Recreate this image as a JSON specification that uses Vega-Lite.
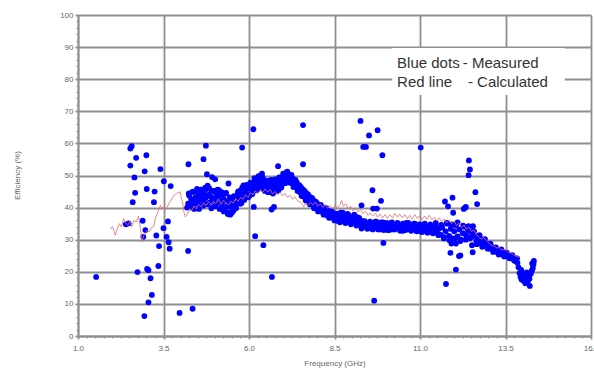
{
  "$schema": "https://vega.github.io/schema/vega-lite/v6.json",
  "width": 513,
  "height": 321,
  "autosize": {"type": "none"},
  "padding": {"left": 78, "top": 15, "right": 3, "bottom": 32},
  "background": "white",
  "config": {"view": {"stroke": null}, "font": "Liberation Sans"},
  "datasets": {
    "meas": [
      {"f":1.53,"e":18.4},{"f":2.40,"e":34.8},{"f":2.48,"e":35.1},{"f":2.53,"e":58.4},{"f":2.57,"e":59.1},{"f":2.70,"e":55.5},{"f":3.00,"e":56.3},{"f":2.53,"e":53.1},{"f":2.95,"e":51.3},{"f":3.41,"e":52.0},{"f":4.23,"e":53.5},{"f":2.65,"e":49.4},{"f":3.51,"e":48.2},{"f":3.71,"e":46.7},{"f":3.01,"e":45.8},{"f":3.24,"e":45.0},{"f":2.67,"e":44.6},{"f":2.60,"e":41.7},{"f":3.22,"e":41.7},{"f":2.89,"e":35.9},{"f":3.63,"e":35.7},{"f":2.97,"e":33.0},{"f":3.50,"e":33.6},{"f":3.29,"e":31.3},{"f":2.91,"e":30.9},{"f":3.59,"e":30.9},{"f":3.65,"e":29.2},{"f":3.37,"e":28.0},{"f":3.68,"e":27.2},{"f":4.22,"e":26.5},{"f":3.35,"e":21.8},{"f":2.74,"e":19.9},{"f":3.02,"e":20.9},{"f":3.06,"e":20.5},{"f":3.12,"e":18.0},{"f":3.16,"e":12.8},{"f":3.06,"e":10.5},{"f":2.94,"e":6.2},{"f":3.97,"e":7.2},{"f":4.35,"e":8.5},{"f":4.19,"e":40.0},{"f":4.74,"e":59.3},{"f":5.80,"e":58.7},{"f":6.13,"e":64.4},{"f":4.67,"e":55.1},{"f":6.85,"e":52.9},{"f":4.77,"e":50.4},{"f":4.92,"e":49.5},{"f":5.01,"e":48.8},{"f":5.40,"e":47.5},{"f":5.84,"e":46.9},{"f":6.38,"e":50.6},{"f":6.14,"e":40.2},{"f":6.66,"e":39.4},{"f":6.73,"e":40.2},{"f":6.18,"e":31.1},{"f":6.42,"e":28.3},{"f":6.67,"e":18.4},{"f":7.58,"e":65.7},{"f":9.26,"e":67.0},{"f":9.51,"e":62.5},{"f":9.76,"e":64.1},{"f":9.34,"e":58.9},{"f":9.42,"e":58.9},{"f":9.90,"e":56.3},{"f":7.58,"e":53.5},{"f":9.61,"e":45.4},{"f":9.86,"e":42.1},{"f":9.29,"e":33.5},{"f":9.93,"e":29.0},{"f":9.66,"e":11.0},{"f":11.02,"e":58.7},{"f":12.43,"e":54.7},{"f":12.46,"e":51.9},{"f":12.42,"e":50.1},{"f":12.62,"e":44.8},{"f":12.67,"e":41.1},{"f":11.95,"e":43.1},{"f":11.73,"e":41.9},{"f":11.82,"e":40.4},{"f":12.34,"e":40.2},{"f":12.28,"e":39.6},{"f":11.97,"e":38.4},{"f":11.89,"e":25.9},{"f":12.14,"e":24.9},{"f":12.18,"e":25.1},{"f":12.05,"e":20.7},{"f":11.76,"e":16.2},{"f":12.52,"e":28.3},{"f":12.54,"e":26.1},{"f":11.92,"e":28.8},{"f":12.05,"e":28.8},{"f":12.32,"e":40.0},{"f":9.63,"e":39.7},{"f":9.74,"e":39.7},{"f":9.29,"e":40.7},
      {"f":4.22,"e":41.2},{"f":4.25,"e":43.8},{"f":4.28,"e":40.5},{"f":4.31,"e":42.6},{"f":4.34,"e":44.8},{"f":4.37,"e":41.8},{"f":4.40,"e":39.6},{"f":4.43,"e":43.2},{"f":4.46,"e":45.0},{"f":4.49,"e":42.0},{"f":4.52,"e":44.2},{"f":4.55,"e":40.8},{"f":4.58,"e":43.4},{"f":4.61,"e":45.6},{"f":4.64,"e":42.4},{"f":4.67,"e":44.4},{"f":4.70,"e":41.2},{"f":4.73,"e":43.0},{"f":4.76,"e":45.8},{"f":4.79,"e":46.8},{"f":4.82,"e":44.0},{"f":4.85,"e":41.6},{"f":4.88,"e":43.4},{"f":4.91,"e":45.2},{"f":4.94,"e":42.2},{"f":4.97,"e":40.4},{"f":5.00,"e":43.0},{"f":5.03,"e":44.6},{"f":5.06,"e":41.4},{"f":5.09,"e":43.6},{"f":5.12,"e":45.4},{"f":5.15,"e":42.0},{"f":5.18,"e":44.2},{"f":5.21,"e":41.0},{"f":5.24,"e":43.0},{"f":5.27,"e":39.6},{"f":5.30,"e":42.2},{"f":5.33,"e":44.6},{"f":5.36,"e":40.4},{"f":5.39,"e":38.6},{"f":5.42,"e":41.6},{"f":5.45,"e":37.8},{"f":5.48,"e":40.2},{"f":5.51,"e":42.8},{"f":5.54,"e":39.0},{"f":5.57,"e":41.4},{"f":5.60,"e":43.4},{"f":5.63,"e":41.2},{"f":5.66,"e":44.0},{"f":5.69,"e":42.2},{"f":5.72,"e":45.2},{"f":5.75,"e":43.0},{"f":5.78,"e":41.4},{"f":5.81,"e":44.2},{"f":5.84,"e":46.0},{"f":5.87,"e":43.2},{"f":5.90,"e":45.4},{"f":5.93,"e":47.0},{"f":5.96,"e":44.2},{"f":5.99,"e":46.2},{"f":6.02,"e":43.8},{"f":6.05,"e":45.8},{"f":6.08,"e":47.8},{"f":6.11,"e":45.0},{"f":6.14,"e":47.0},{"f":6.17,"e":48.6},{"f":6.20,"e":45.8},{"f":6.23,"e":47.6},{"f":6.26,"e":49.2},{"f":6.29,"e":46.4},{"f":6.32,"e":48.2},{"f":6.35,"e":50.0},{"f":6.38,"e":47.2},{"f":6.41,"e":48.8},{"f":6.44,"e":46.0},{"f":6.47,"e":47.6},{"f":6.50,"e":45.4},{"f":6.53,"e":47.2},{"f":6.56,"e":44.8},{"f":6.59,"e":46.6},{"f":6.62,"e":48.2},{"f":6.65,"e":45.6},{"f":6.68,"e":47.4},{"f":6.71,"e":45.0},{"f":6.74,"e":46.8},{"f":6.77,"e":48.4},{"f":6.80,"e":46.0},{"f":6.83,"e":47.8},{"f":6.86,"e":45.4},{"f":6.89,"e":47.2},{"f":6.92,"e":48.8},{"f":6.95,"e":46.6},{"f":6.98,"e":48.4},{"f":7.01,"e":50.2},{"f":7.04,"e":48.0},{"f":7.07,"e":49.6},{"f":7.10,"e":51.0},{"f":7.13,"e":48.8},{"f":7.16,"e":50.4},{"f":7.19,"e":48.2},{"f":7.22,"e":49.6},{"f":7.25,"e":47.6},{"f":7.28,"e":49.0},{"f":7.31,"e":47.0},{"f":7.34,"e":48.4},{"f":7.37,"e":46.4},{"f":7.40,"e":47.8},{"f":7.43,"e":45.6},{"f":7.46,"e":47.0},{"f":7.49,"e":44.8},{"f":7.52,"e":46.4},{"f":7.55,"e":44.2},{"f":7.58,"e":45.6},{"f":7.61,"e":43.4},{"f":7.64,"e":45.0},{"f":7.67,"e":42.8},{"f":7.70,"e":44.2},{"f":7.73,"e":42.2},{"f":7.76,"e":43.6},{"f":7.79,"e":41.6},{"f":7.82,"e":43.0},{"f":7.85,"e":41.0},{"f":7.88,"e":42.4},{"f":7.91,"e":40.4},{"f":7.94,"e":41.8},{"f":7.97,"e":39.8},{"f":8.00,"e":41.2},{"f":8.04,"e":39.4},{"f":8.08,"e":40.6},{"f":8.12,"e":38.8},{"f":8.16,"e":40.0},{"f":8.20,"e":38.2},{"f":8.24,"e":39.6},{"f":8.28,"e":37.6},{"f":8.32,"e":39.0},{"f":8.36,"e":37.2},{"f":8.40,"e":38.6},{"f":8.44,"e":36.8},{"f":8.48,"e":38.2},{"f":8.52,"e":36.2},{"f":8.56,"e":37.4},{"f":8.60,"e":35.8},{"f":8.64,"e":37.0},{"f":8.68,"e":38.4},{"f":8.72,"e":36.2},{"f":8.76,"e":37.6},{"f":8.80,"e":35.6},{"f":8.84,"e":36.8},{"f":8.88,"e":38.0},{"f":8.92,"e":36.0},{"f":8.96,"e":37.2},{"f":9.00,"e":35.4},{"f":9.04,"e":36.6},{"f":9.08,"e":37.8},{"f":9.12,"e":35.8},{"f":9.16,"e":37.0},{"f":9.20,"e":35.0},{"f":9.24,"e":36.2},{"f":9.28,"e":34.6},{"f":9.32,"e":35.8},{"f":9.36,"e":34.2},{"f":9.40,"e":35.4},{"f":9.44,"e":33.8},{"f":9.48,"e":35.0},{"f":9.52,"e":33.6},{"f":9.56,"e":34.8},{"f":9.60,"e":33.4},{"f":9.64,"e":35.2},{"f":9.68,"e":34.0},{"f":9.72,"e":35.6},{"f":9.76,"e":33.6},{"f":9.80,"e":34.8},{"f":9.84,"e":33.2},{"f":9.88,"e":34.6},{"f":9.92,"e":35.4},{"f":9.96,"e":33.4},{"f":10.00,"e":34.6},{"f":10.05,"e":33.0},{"f":10.10,"e":34.4},{"f":10.15,"e":35.2},{"f":10.20,"e":33.2},{"f":10.25,"e":34.6},{"f":10.30,"e":33.6},{"f":10.35,"e":35.0},{"f":10.40,"e":33.4},{"f":10.45,"e":34.4},{"f":10.50,"e":32.8},{"f":10.55,"e":34.2},{"f":10.60,"e":35.2},{"f":10.65,"e":33.4},{"f":10.70,"e":34.6},{"f":10.75,"e":33.0},{"f":10.80,"e":34.2},{"f":10.85,"e":35.0},{"f":10.90,"e":33.2},{"f":10.95,"e":34.4},{"f":11.00,"e":32.6},{"f":11.05,"e":33.8},{"f":11.10,"e":34.8},{"f":11.15,"e":32.8},{"f":11.20,"e":34.0},{"f":11.25,"e":33.0},{"f":11.30,"e":34.4},{"f":11.35,"e":32.4},{"f":11.40,"e":33.6},{"f":11.45,"e":34.6},{"f":11.50,"e":32.2},{"f":11.55,"e":33.4},{"f":11.60,"e":31.6},{"f":11.65,"e":33.8},{"f":11.70,"e":30.8},{"f":11.75,"e":32.6},{"f":11.80,"e":35.0},{"f":11.85,"e":31.2},{"f":11.90,"e":33.4},{"f":11.95,"e":30.4},{"f":12.00,"e":32.6},{"f":12.05,"e":34.4},{"f":12.10,"e":31.0},{"f":12.15,"e":33.2},{"f":12.20,"e":30.0},{"f":12.25,"e":32.0},{"f":12.30,"e":34.0},{"f":12.35,"e":31.4},{"f":12.40,"e":33.0},{"f":12.45,"e":30.4},{"f":12.50,"e":32.4},{"f":12.55,"e":34.2},{"f":12.60,"e":31.2},{"f":12.65,"e":29.6},{"f":12.70,"e":31.0},{"f":12.75,"e":29.0},{"f":12.80,"e":30.2},{"f":12.85,"e":28.2},{"f":12.90,"e":29.4},{"f":12.95,"e":27.8},{"f":13.00,"e":28.6},{"f":13.05,"e":27.2},{"f":13.10,"e":27.8},{"f":13.15,"e":26.6},{"f":13.20,"e":27.2},{"f":13.25,"e":26.2},{"f":13.30,"e":26.8},{"f":13.35,"e":25.6},{"f":13.40,"e":26.2},{"f":13.45,"e":25.2},{"f":13.50,"e":25.8},{"f":13.55,"e":24.8},{"f":13.60,"e":25.2},{"f":13.65,"e":24.2},{"f":13.70,"e":24.8},{"f":13.75,"e":23.6},{"f":13.80,"e":24.2},{"f":13.85,"e":22.8},{"f":13.88,"e":21.4},{"f":13.91,"e":19.6},{"f":13.94,"e":18.4},{"f":13.97,"e":17.6},{"f":14.00,"e":18.8},{"f":14.03,"e":17.2},{"f":14.06,"e":19.4},{"f":14.09,"e":18.0},{"f":14.12,"e":19.8},{"f":14.15,"e":17.0},{"f":14.18,"e":18.6},{"f":14.21,"e":15.6},{"f":14.24,"e":19.4},{"f":14.27,"e":20.4},{"f":14.30,"e":21.2},{"f":14.32,"e":22.4},{"f":14.33,"e":23.4},
      {"f":4.24,"e":44.4},{"f":4.30,"e":40.0},{"f":4.36,"e":45.0},{"f":4.42,"e":41.2},{"f":4.48,"e":45.8},{"f":4.54,"e":39.6},{"f":4.60,"e":45.6},{"f":4.66,"e":40.6},{"f":4.72,"e":46.2},{"f":4.78,"e":41.0},{"f":4.84,"e":46.0},{"f":4.90,"e":39.8},{"f":4.96,"e":45.2},{"f":5.02,"e":40.4},{"f":5.08,"e":45.6},{"f":5.14,"e":39.6},{"f":5.20,"e":44.8},{"f":5.26,"e":38.8},{"f":5.32,"e":44.4},{"f":5.38,"e":38.0},{"f":5.44,"e":43.2},{"f":5.50,"e":38.4},{"f":5.56,"e":43.6},{"f":5.62,"e":39.8},{"f":5.68,"e":45.0},{"f":5.74,"e":41.2},{"f":5.80,"e":46.2},{"f":5.86,"e":42.4},{"f":5.92,"e":47.0},{"f":5.98,"e":43.2},{"f":6.04,"e":47.8},{"f":6.10,"e":44.2},{"f":6.16,"e":49.2},{"f":6.22,"e":45.4},{"f":6.28,"e":49.8},{"f":6.34,"e":46.0},{"f":6.40,"e":49.4},{"f":6.46,"e":45.2},{"f":6.52,"e":48.4},{"f":6.58,"e":44.8},{"f":6.64,"e":48.6},{"f":6.70,"e":44.4},{"f":6.76,"e":48.8},{"f":6.82,"e":45.2},{"f":6.88,"e":49.4},{"f":6.94,"e":46.2},{"f":7.00,"e":50.6},{"f":7.06,"e":47.6},{"f":7.12,"e":51.2},{"f":7.18,"e":47.8},{"f":7.24,"e":50.2},{"f":7.30,"e":46.4},{"f":7.36,"e":48.6},{"f":7.42,"e":45.2},{"f":7.48,"e":46.8},{"f":7.54,"e":43.6},{"f":7.60,"e":45.4},{"f":7.66,"e":42.2},{"f":7.72,"e":44.2},{"f":7.78,"e":41.0},{"f":7.84,"e":43.0},{"f":7.90,"e":39.8},{"f":7.96,"e":41.8},{"f":8.02,"e":38.8},{"f":8.10,"e":40.8},{"f":8.18,"e":37.8},{"f":8.26,"e":39.8},{"f":8.34,"e":36.8},{"f":8.42,"e":38.8},{"f":8.50,"e":36.0},{"f":8.58,"e":38.0},{"f":8.66,"e":35.4},{"f":8.74,"e":38.4},{"f":8.82,"e":35.2},{"f":8.90,"e":37.8},{"f":8.98,"e":34.8},{"f":9.06,"e":37.4},{"f":9.14,"e":34.4},{"f":9.22,"e":36.8},{"f":9.30,"e":34.0},{"f":9.38,"e":35.8},{"f":9.46,"e":33.4},{"f":9.54,"e":35.6},{"f":9.62,"e":33.2},{"f":9.70,"e":35.6},{"f":9.78,"e":33.2},{"f":9.86,"e":35.4},{"f":9.94,"e":33.0},{"f":10.02,"e":35.2},{"f":10.10,"e":33.0},{"f":10.18,"e":35.4},{"f":10.26,"e":33.2},{"f":10.34,"e":35.2},{"f":10.42,"e":32.8},{"f":10.50,"e":35.0},{"f":10.58,"e":33.0},{"f":10.66,"e":35.2},{"f":10.74,"e":32.8},{"f":10.82,"e":35.0},{"f":10.90,"e":32.6},{"f":10.98,"e":34.8},{"f":11.06,"e":32.4},{"f":11.14,"e":35.0},{"f":11.22,"e":32.2},{"f":11.30,"e":34.8},{"f":11.38,"e":32.0},{"f":11.46,"e":35.2},{"f":11.54,"e":31.4},{"f":11.62,"e":34.6},{"f":11.70,"e":30.4},{"f":11.78,"e":35.2},{"f":11.86,"e":29.8},{"f":11.94,"e":34.8},{"f":12.02,"e":30.4},{"f":12.10,"e":35.4},{"f":12.18,"e":29.6},{"f":12.26,"e":34.4},{"f":12.34,"e":30.0},{"f":12.42,"e":34.2},{"f":12.50,"e":30.8},{"f":12.58,"e":32.6},{"f":12.66,"e":28.6},{"f":12.74,"e":31.4},{"f":12.82,"e":27.8},{"f":12.90,"e":30.2},{"f":12.98,"e":27.2},{"f":13.06,"e":28.8},{"f":13.14,"e":26.2},{"f":13.22,"e":27.6},{"f":13.30,"e":25.4},{"f":13.38,"e":27.0},{"f":13.46,"e":24.8},{"f":13.54,"e":26.0},{"f":13.62,"e":24.2},{"f":13.70,"e":25.2},{"f":13.78,"e":23.4},{"f":13.84,"e":24.2},{"f":13.96,"e":20.6},{"f":14.08,"e":16.4},{"f":14.20,"e":17.8},{"f":14.28,"e":22.6}
    ],
    "calc": [
      {"f":1.94,"e":33.5},{"f":2.01,"e":34.0},{"f":2.06,"e":32.5},{"f":2.09,"e":31.4},{"f":2.15,"e":33.5},{"f":2.21,"e":35.0},{"f":2.27,"e":34.0},{"f":2.33,"e":36.6},{"f":2.40,"e":35.2},{"f":2.46,"e":34.5},{"f":2.52,"e":35.8},{"f":2.57,"e":34.0},{"f":2.63,"e":36.0},{"f":2.71,"e":35.5},{"f":2.77,"e":37.3},{"f":2.82,"e":34.0},{"f":2.87,"e":29.3},{"f":2.93,"e":31.5},{"f":2.98,"e":32.2},{"f":3.02,"e":33.0},{"f":3.09,"e":32.5},{"f":3.15,"e":33.8},{"f":3.21,"e":34.0},{"f":3.26,"e":36.5},{"f":3.33,"e":38.5},{"f":3.41,"e":40.7},{"f":3.46,"e":39.5},{"f":3.50,"e":40.2},{"f":3.55,"e":39.2},{"f":3.62,"e":40.5},{"f":3.69,"e":41.8},{"f":3.76,"e":43.0},{"f":3.82,"e":43.9},{"f":3.90,"e":44.5},{"f":3.98,"e":44.9},{"f":4.05,"e":42.0},{"f":4.10,"e":38.5},{"f":4.14,"e":37.1},{"f":4.20,"e":38.0},{"f":4.26,"e":39.6},{"f":4.33,"e":39.2},{"f":4.39,"e":40.5},{"f":4.46,"e":39.6},{"f":4.53,"e":41.0},{"f":4.61,"e":40.2},{"f":4.68,"e":41.5},{"f":4.74,"e":40.6},{"f":4.82,"e":41.8},{"f":4.90,"e":40.8},{"f":4.96,"e":42.0},{"f":5.03,"e":41.2},{"f":5.11,"e":42.5},{"f":5.18,"e":41.0},{"f":5.25,"e":42.2},{"f":5.32,"e":41.6},{"f":5.40,"e":40.8},{"f":5.47,"e":42.0},{"f":5.54,"e":41.4},{"f":5.61,"e":42.8},{"f":5.68,"e":42.0},{"f":5.76,"e":43.2},{"f":5.83,"e":42.6},{"f":5.90,"e":44.0},{"f":5.97,"e":43.2},{"f":6.05,"e":44.6},{"f":6.12,"e":44.0},{"f":6.18,"e":45.2},{"f":6.26,"e":44.4},{"f":6.34,"e":45.6},{"f":6.40,"e":44.6},{"f":6.47,"e":45.8},{"f":6.55,"e":44.8},{"f":6.62,"e":45.6},{"f":6.69,"e":44.2},{"f":6.76,"e":45.0},{"f":6.84,"e":44.0},{"f":6.91,"e":44.8},{"f":6.98,"e":43.6},{"f":7.05,"e":44.4},{"f":7.12,"e":43.2},{"f":7.20,"e":43.8},{"f":7.27,"e":42.6},{"f":7.34,"e":43.4},{"f":7.41,"e":42.2},{"f":7.49,"e":41.8},{"f":7.56,"e":41.0},{"f":7.60,"e":40.2},{"f":7.66,"e":41.2},{"f":7.72,"e":40.6},{"f":7.80,"e":41.6},{"f":7.87,"e":40.8},{"f":7.94,"e":41.8},{"f":8.01,"e":40.4},{"f":8.08,"e":41.2},{"f":8.16,"e":40.0},{"f":8.23,"e":41.0},{"f":8.30,"e":39.8},{"f":8.37,"e":40.6},{"f":8.45,"e":39.6},{"f":8.52,"e":40.8},{"f":8.58,"e":39.8},{"f":8.66,"e":41.0},{"f":8.71,"e":42.2},{"f":8.76,"e":40.4},{"f":8.83,"e":41.2},{"f":8.90,"e":39.6},{"f":8.97,"e":40.4},{"f":9.04,"e":39.0},{"f":9.12,"e":39.8},{"f":9.19,"e":38.6},{"f":9.26,"e":39.4},{"f":9.33,"e":38.2},{"f":9.41,"e":38.8},{"f":9.48,"e":37.6},{"f":9.54,"e":38.4},{"f":9.62,"e":37.4},{"f":9.70,"e":38.2},{"f":9.76,"e":37.0},{"f":9.83,"e":38.0},{"f":9.91,"e":36.8},{"f":9.98,"e":37.8},{"f":10.05,"e":36.6},{"f":10.12,"e":37.8},{"f":10.20,"e":36.8},{"f":10.27,"e":38.2},{"f":10.34,"e":37.0},{"f":10.41,"e":38.0},{"f":10.48,"e":36.8},{"f":10.56,"e":37.8},{"f":10.63,"e":36.6},{"f":10.70,"e":37.6},{"f":10.77,"e":36.4},{"f":10.85,"e":37.8},{"f":10.92,"e":36.6},{"f":10.98,"e":37.4},{"f":11.06,"e":36.2},{"f":11.14,"e":37.4},{"f":11.20,"e":36.4},{"f":11.27,"e":37.6},{"f":11.35,"e":36.2},{"f":11.42,"e":37.0},{"f":11.49,"e":35.8},{"f":11.56,"e":36.8},{"f":11.64,"e":35.6},{"f":11.71,"e":36.4},{"f":11.78,"e":35.2},{"f":11.85,"e":36.2},{"f":11.92,"e":35.0},{"f":12.00,"e":35.8},{"f":12.07,"e":34.4},{"f":12.14,"e":35.2},{"f":12.21,"e":33.8},{"f":12.29,"e":34.6},{"f":12.36,"e":33.2},{"f":12.42,"e":34.0},{"f":12.50,"e":32.6},{"f":12.58,"e":33.0},{"f":12.64,"e":31.6},{"f":12.71,"e":31.0},{"f":12.79,"e":30.2},{"f":12.86,"e":30.6},{"f":12.94,"e":29.9},{"f":13.03,"e":28.8},{"f":13.10,"e":28.2},{"f":13.17,"e":28.0},{"f":13.25,"e":27.4},{"f":13.32,"e":27.6},{"f":13.38,"e":26.8},{"f":13.46,"e":27.0},{"f":13.53,"e":26.7},{"f":13.60,"e":26.0},{"f":13.67,"e":25.8},{"f":13.75,"e":25.2},{"f":13.82,"e":24.8},{"f":13.92,"e":24.5}
    ],
    "notes": [
      {"f":10.33,"e":84.9,"t":"Blue dots"},
      {"f":12.25,"e":84.9,"t":"- Measured"},
      {"f":10.33,"e":79.0,"t":"Red line"},
      {"f":12.40,"e":79.0,"t":"- Calculated"}
    ],
    "box": [{"f":10.19,"f2":15.23,"e":75.1,"e2":89.7}]
  },
  "resolve": {"axis": {"x": "independent", "y": "independent"}},
  "layer": [
    {
      "data": {"name": "box"},
      "mark": {"type": "rect", "fill": "white"},
      "encoding": {
        "x": {"field": "f", "type": "quantitative", "scale": {"domain": [1, 16], "nice": false, "zero": false},
          "axis": {"orient": "bottom", "values": [1, 3.5, 6, 8.5, 11, 13.5, 16], "format": ".1f", "grid": true,
            "gridColor": "#8f8f8f", "gridWidth": 1.8, "domainColor": "#8f8f8f", "domainWidth": 1.8,
            "tickColor": "#8f8f8f", "tickWidth": 1.8, "tickSize": 3, "labelFontSize": 8, "labelColor": "#666666",
            "labelPadding": 5, "labelFlush": false, "labelOverlap": false,
            "title": "Frequency (GHz)", "titleFontSize": 8, "titleFontWeight": "normal", "titleColor": "#666666",
            "titleY": 27, "titleBaseline": "middle"}},
        "x2": {"field": "f2"},
        "y": {"field": "e", "type": "quantitative", "scale": {"domain": [0, 100], "nice": false},
          "axis": {"orient": "left", "values": [0, 10, 20, 30, 40, 50, 60, 70, 80, 90, 100], "grid": true,
            "gridColor": "#8f8f8f", "gridWidth": 1.8, "domainColor": "#8f8f8f", "domainWidth": 1.8,
            "tickColor": "#8f8f8f", "tickWidth": 1.8, "tickSize": 3, "labelFontSize": 8, "labelColor": "#666666",
            "labelPadding": 2, "labelFlush": false, "labelOverlap": false,
            "title": "Efficiency (%)", "titleFontSize": 8, "titleFontWeight": "normal", "titleColor": "#666666",
            "titleX": -61, "titleY": 160, "titleAngle": -90, "titleAlign": "center", "titleBaseline": "middle"}},
        "y2": {"field": "e2"}
      }
    },
    {
      "data": {"name": "meas"},
      "mark": {"type": "circle", "color": "#0000ff", "size": 34, "opacity": 1},
      "encoding": {
        "x": {"field": "f", "type": "quantitative", "axis": null},
        "y": {"field": "e", "type": "quantitative", "axis": null}
      }
    },
    {
      "data": {"name": "calc"},
      "mark": {"type": "line", "color": "#d9706e", "strokeWidth": 1, "opacity": 0.8},
      "encoding": {
        "x": {"field": "f", "type": "quantitative", "axis": null},
        "y": {"field": "e", "type": "quantitative", "axis": null}
      }
    },
    {
      "data": {"name": "notes"},
      "mark": {"type": "text", "align": "left", "baseline": "middle", "fontSize": 15, "color": "#333333", "font": "Liberation Sans"},
      "encoding": {
        "x": {"field": "f", "type": "quantitative",
          "axis": {"orient": "bottom", "values": [1,1.25,1.5,1.75,2,2.25,2.5,2.75,3,3.25,3.5,3.75,4,4.25,4.5,4.75,5,5.25,5.5,5.75,6,6.25,6.5,6.75,7,7.25,7.5,7.75,8,8.25,8.5,8.75,9,9.25,9.5,9.75,10,10.25,10.5,10.75,11,11.25,11.5,11.75,12,12.25,12.5,12.75,13,13.25,13.5,13.75,14,14.25,14.5,14.75,15,15.25,15.5,15.75,16],
            "labels": false, "grid": false, "domain": false, "tickColor": "#8f8f8f", "tickSize": 2, "tickWidth": 1, "title": null}},
        "y": {"field": "e", "type": "quantitative",
          "axis": {"orient": "left", "values": [0,2,4,6,8,10,12,14,16,18,20,22,24,26,28,30,32,34,36,38,40,42,44,46,48,50,52,54,56,58,60,62,64,66,68,70,72,74,76,78,80,82,84,86,88,90,92,94,96,98,100],
            "labels": false, "grid": false, "domain": false, "tickColor": "#8f8f8f", "tickSize": 2, "tickWidth": 1, "title": null}},
        "text": {"field": "t"}
      }
    }
  ]
}
